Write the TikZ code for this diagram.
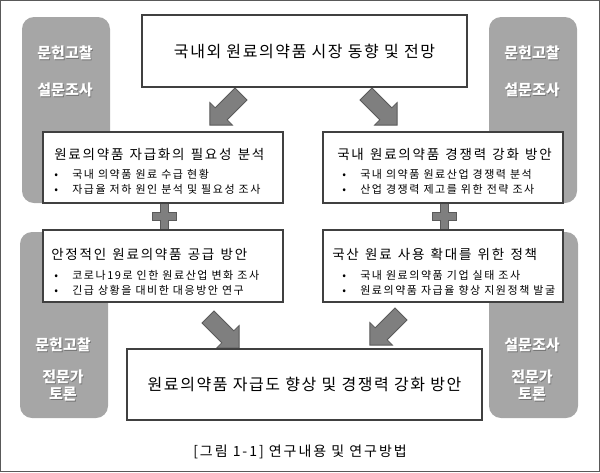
\documentclass[tikz,border=0pt]{standalone}
\usepackage{fontspec}
\setmainfont{Noto Sans CJK KR}
\newfontfamily\topfamily[LetterSpace=10]{Noto Sans CJK KR}
\newfontfamily\titlefamily[LetterSpace=13,WordSpace=1.3]{Noto Sans CJK KR}
\newfontfamily\bulletfamily[LetterSpace=14,WordSpace=1.25]{Noto Sans CJK KR}
\newfontfamily\captionfamily[LetterSpace=14]{Noto Sans CJK KR}
\usetikzlibrary{calc}

\definecolor{panelgray}{HTML}{A6A6A6}
\definecolor{arrowgray}{HTML}{7F7F7F}
\definecolor{arrowedge}{HTML}{5A5A5A}
\definecolor{boxedge}{HTML}{404040}

\tikzset{
  panel/.style={fill=panelgray,rounded corners=12pt},
  paneltext/.style={text=white,font=\panelfontsize\bfseries,align=center,inner sep=0},
  panelshadow/.style={text=black!55,font=\panelfontsize\bfseries,align=center,inner sep=0},
  box/.style={draw=boxedge,line width=1.8pt,fill=white,inner sep=0},
  boxtitle/.style={anchor=west,inner sep=0,font=\titlefontsize},
  bullets/.style={anchor=west,inner sep=0,align=left,font=\bulletfontsize},
  blockarrow/.style={fill=arrowgray,draw=arrowedge,line width=0.8pt,line join=miter},
}

\newcommand{\blockarrow}[2]{%
  \draw[blockarrow,shift={#1},rotate=#2]
    (0,-8.5) -- (28,-8.5) -- (28,-16) -- (44,0) -- (28,16) -- (28,8.5) -- (0,8.5) -- cycle;}
\newcommand{\plussign}[1]{%
  \draw[blockarrow,shift={#1}]
    (-4,-13.5) -- (4,-13.5) -- (4,-4) -- (12,-4) -- (12,4) -- (4,4) -- (4,13.5)
    -- (-4,13.5) -- (-4,4) -- (-12,4) -- (-12,-4) -- (-4,-4) -- cycle;}
\newcommand{\panellabel}[3]{%
  \node[panelshadow,xshift=0.8pt,yshift=-0.8pt] (#1s) at #2 {#3};
  \node[paneltext] (#1) at #2 {#3};}

\begin{document}
\begin{tikzpicture}[x=1pt,y=-1pt]
    \providecommand{\panelfontsize}{\fontsize{15}{17}\selectfont}
    \providecommand{\topfontsize}{\topfamily\fontsize{16}{18}\selectfont}
    \providecommand{\titlefontsize}{\titlefamily\fontsize{13.5}{16}\selectfont}
    \providecommand{\bulletfontsize}{\bulletfamily\fontsize{11}{15}\selectfont}
    \providecommand{\captionfontsize}{\captionfamily\fontsize{14}{16}\selectfont}
    \useasboundingbox (0,0) rectangle (600,472);
    \draw[black!65,line width=1pt] (0.5,0.5) rectangle (599.5,471.5);

    % method panels
    \fill[panel] (22,17) rectangle (110,203);
    \fill[panel] (489,17) rectangle (577,203);
    \fill[panel] (20,232) rectangle (108,418);
    \fill[panel] (489,232) rectangle (578,418);
    \panellabel{tlone}{(65,53)}{문헌고찰}
    \panellabel{tltwo}{(65,90)}{설문조사}
    \panellabel{trone}{(532,53)}{문헌고찰}
    \panellabel{trtwo}{(532,90)}{설문조사}
    \panellabel{blone}{(63,345)}{문헌고찰}
    \panellabel{bltwo}{(63,385.5)}{전문가\\토론}
    \panellabel{brone}{(532,345)}{설문조사}
    \panellabel{brtwo}{(532,385.5)}{전문가\\토론}

    \plussign{(164,216)}
    \plussign{(444,216)}
    \blockarrow{(241,94)}{225}
    \blockarrow{(366,94)}{315}
    \blockarrow{(208,317)}{315}
    \blockarrow{(401,314)}{225}

    \node[box,minimum width=325pt,minimum height=72pt,font=\topfontsize] (outlook) at (304.5,51)
        {국내외 원료의약품 시장 동향 및 전망};
    \node[box,minimum width=240pt,minimum height=71pt] (need) at (163,167.5) {};
    \node[box,minimum width=240pt,minimum height=71pt] (compete) at (443,167.5) {};
    \node[box,minimum width=240pt,minimum height=72pt] (supply) at (163,266) {};
    \node[box,minimum width=240pt,minimum height=72pt] (policy) at (443,266) {};
    \node[box,minimum width=355pt,minimum height=71pt,font=\topfontsize] (goal) at (304.5,384.5)
        {원료의약품 자급도 향상 및 경쟁력 강화 방안};

    \node[boxtitle] (needtitle) at ($(need.north west)+(12,23)$) {원료의약품 자급화의 필요성 분석};
    \node[bullets] (needlist) at ($(need.north west)+(12,50.5)$)
        {\makebox[18pt][l]{•}국내 의약품 원료 수급 현황\\\makebox[18pt][l]{•}자급율 저하 원인 분석 및 필요성 조사};
    \node[boxtitle] (competetitle) at ($(compete.north west)+(15,23)$) {국내 원료의약품 경쟁력 강화 방안};
    \node[bullets] (competelist) at ($(compete.north west)+(20,50.5)$)
        {\makebox[18pt][l]{•}국내 의약품 원료산업 경쟁력 분석\\\makebox[18pt][l]{•}산업 경쟁력 제고를 위한 전략 조사};
    \node[boxtitle] (supplytitle) at ($(supply.north west)+(9,25)$) {안정적인 원료의약품 공급 방안};
    \node[bullets] (supplylist) at ($(supply.north west)+(12,54)$)
        {\makebox[18pt][l]{•}코로나19로 인한 원료산업 변화 조사\\\makebox[18pt][l]{•}긴급 상황을 대비한 대응방안 연구};
    \node[boxtitle] (policytitle) at ($(policy.north west)+(10,25)$) {국산 원료 사용 확대를 위한 정책};
    \node[bullets] (policylist) at ($(policy.north west)+(20,54)$)
        {\makebox[18pt][l]{•}국내 원료의약품 기업 실태 조사\\\makebox[18pt][l]{•}원료의약품 자급율 향상 지원정책 발굴};

    \node[font=\captionfontsize,inner sep=0] (caption) at (300,452) {[그림 1-1] 연구내용 및 연구방법};
\end{tikzpicture}
\end{document}
